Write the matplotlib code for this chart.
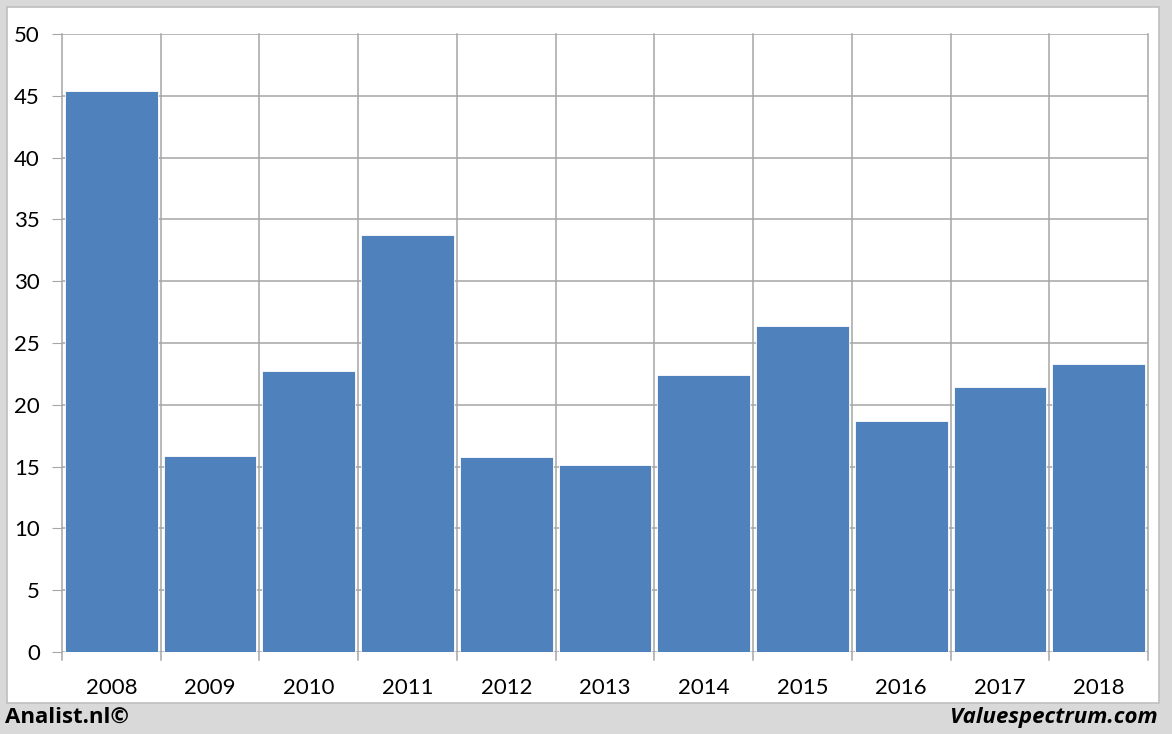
import numpy as np
import matplotlib.pyplot as plt
import matplotlib.patches as mpatches

years = ['2008', '2009', '2010', '2011', '2012', '2013',
         '2014', '2015', '2016', '2017', '2018']
values = [45.4, 15.85, 22.7, 33.7, 15.8, 15.15, 22.4, 26.35, 18.7, 21.45, 23.3]
yticks = [0, 5, 10, 15, 20, 25, 30, 35, 40, 45, 50]

W, H = 1172, 734
fig = plt.figure(figsize=(W/100, H/100), dpi=100, facecolor='#d9d9d9')

# white panel behind the chart
panel = mpatches.Rectangle((7/W, 1 - 703/H), (1159-7)/W, (703-7)/H,
                           transform=fig.transFigure, facecolor='white',
                           edgecolor='#bfbfbf', linewidth=1.2, zorder=-10)
fig.patches.append(panel)

ax = fig.add_axes([62/W, 1 - 652/H, (1148-62)/W, (652-34)/H])
ax.set_facecolor('none')

x = np.arange(len(years))
ax.bar(x, values, width=0.94, color='#4f81bd', edgecolor='white',
       linewidth=0.6, zorder=3)

ax.set_xlim(-0.5, len(years) - 0.5)
ax.set_ylim(0, 50)
ax.set_yticks(yticks)
ax.set_xticks(x)
ax.set_xticklabels(years)
ax.tick_params(axis='x', length=0, pad=19, labelsize=16)
ax.tick_params(axis='y', length=7, color='#a6a6a6', pad=9, labelsize=16)

# gridlines: horizontal at y ticks, vertical at category boundaries
for yv in yticks:
    ax.axhline(yv, color='#a6a6a6', linewidth=1.1, zorder=1)
for b in np.arange(-0.5, len(years), 1.0):
    ax.plot([b, b], [-0.65, 50], color='#a6a6a6', linewidth=1.1,
            zorder=1, clip_on=False)

for s in ax.spines.values():
    s.set_visible(False)
for lbl in ax.get_xticklabels() + ax.get_yticklabels():
    lbl.set_family(['Lato', 'DejaVu Sans'])

fig.text(5/W, 1 - 717/H, 'Analist.nl©', fontsize=16, fontweight='bold',
         family=['Open Sans', 'DejaVu Sans'], va='center', ha='left')
fig.text(1158/W, 1 - 717/H, 'Valuespectrum.com', fontsize=16,
         fontweight='bold', style='italic',
         family=['Open Sans', 'DejaVu Sans'], va='center', ha='right')

fig.savefig('out.png', dpi=100, facecolor=fig.get_facecolor())
